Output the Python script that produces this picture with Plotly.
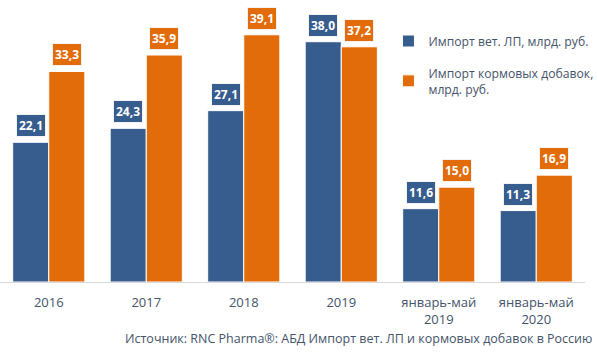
import plotly.graph_objects as go

categories = ["2016", "2017", "2018", "2019", "январь-май<br>2019", "январь-май<br>2020"]
vet = [22.1, 24.3, 27.1, 38.0, 11.6, 11.3]
feed = [33.3, 35.9, 39.1, 37.2, 15.0, 16.9]
name_vet = "Импорт вет. ЛП, млрд. руб."
name_feed = "Импорт кормовых добавок,<br>млрд. руб."
source = "Источник: RNC Pharma®: АБД Импорт вет. ЛП и кормовых добавок в Россию"

BLUE = "#375d8e"
ORANGE = "#e36c0a"
TXT = "#44546a"
FONT = "Open Sans"

fig = go.Figure()
fig.add_bar(x=categories, y=vet, name=name_vet, legendgroup="a",
            marker=dict(color=BLUE, line=dict(color="white", width=1)))
fig.add_bar(x=categories, y=feed, name=name_feed, legendgroup="b",
            marker=dict(color=ORANGE, line=dict(color="white", width=1)))

def fmt(v):
    return f"{v:.1f}".replace(".", ",")

for i, v in enumerate(vet):
    fig.add_annotation(x=i, y=v, text=f"<b>{fmt(v)}</b>", showarrow=False, xshift=-18, yshift=5,
                       yanchor="bottom", bgcolor=BLUE, bordercolor="#f2f2f2", borderwidth=1, borderpad=2,
                       font=dict(color="white", size=12, family=FONT))
for i, v in enumerate(feed):
    fig.add_annotation(x=i, y=v, text=f"<b>{fmt(v)}</b>", showarrow=False, xshift=18, yshift=5,
                       yanchor="bottom", bgcolor=ORANGE, bordercolor="#f2f2f2", borderwidth=1, borderpad=2,
                       font=dict(color="white", size=12, family=FONT))

fig.add_annotation(text=source, xref="paper", yref="paper", x=0.612, y=-0.2, yanchor="middle",
                   xanchor="center", showarrow=False, font=dict(color=TXT, size=12.5, family=FONT))

fig.update_layout(
    width=597, height=354,
    margin=dict(l=0, r=12, t=0, b=72, autoexpand=False),
    barmode="group", bargap=0.26, bargroupgap=0,
    plot_bgcolor="white", paper_bgcolor="white",
    font=dict(family=FONT, color=TXT, size=13),
    legend=dict(x=0.664, y=0.906, xanchor="left", yanchor="top", bgcolor="rgba(0,0,0,0)",
                font=dict(size=12.2, color=TXT, family=FONT), tracegroupgap=13, itemwidth=30),
    xaxis=dict(type="category", range=[-0.5, 5.5], showline=True, linecolor="#d9d9d9", linewidth=1,
               ticks="", ticklabelstandoff=8, tickfont=dict(size=13, color=TXT)),
    yaxis=dict(visible=False, range=[0, 44.6]),
)
fig.write_html("out.html")
